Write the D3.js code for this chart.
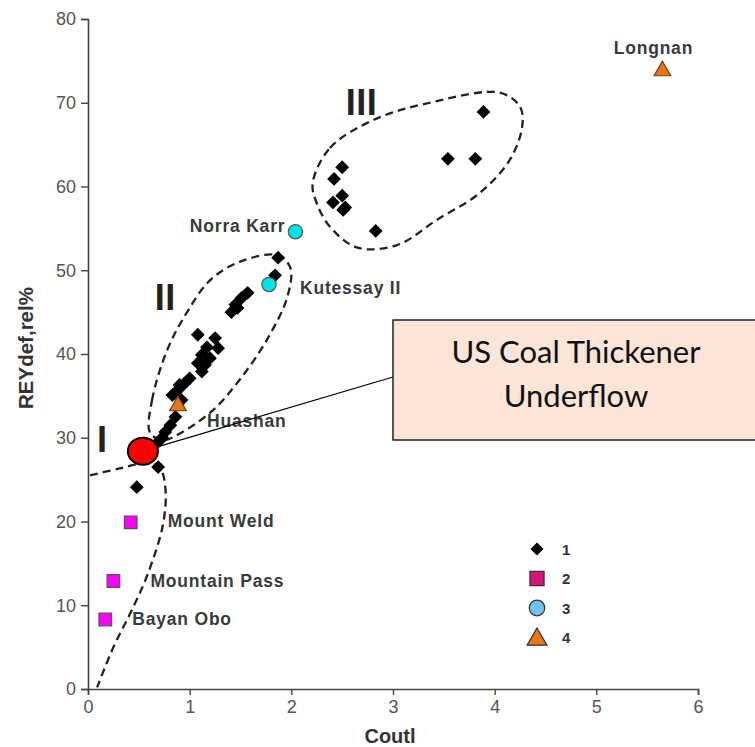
<!DOCTYPE html>
<html>
<head>
<meta charset="utf-8">
<script src="https://cdn.jsdelivr.net/npm/d3@7"></script>
<style>
  html, body { margin: 0; padding: 0; background: #fff; }
  svg { display: block; }
  .tick text { font-family: "Liberation Sans", Arial, sans-serif; font-size: 18px; fill: #555; }
  .lbl { font-family: "Liberation Sans", Arial, sans-serif; font-weight: bold; font-size: 17.5px; fill: #3a3a3a; letter-spacing: 0.8px; }
</style>
</head>
<body>
<svg id="chart" width="755" height="747"></svg>
<script>
// Axis ticks
const xTicks = [0, 1, 2, 3, 4, 5, 6];
const yTicks = [0, 10, 20, 30, 40, 50, 60, 70, 80];

// Group 1: REY deposits in coal ash (Coutl, REYdef,rel%)
const group1X = [3.89, 3.54, 3.81, 2.50, 2.42, 2.41, 2.50, 2.53, 2.51, 2.83,
                 1.87, 1.84, 1.57, 1.51, 1.45, 1.41, 1.47, 1.08, 1.25, 1.28,
                 1.17, 1.12, 1.08, 1.15, 1.12, 1.00, 0.95, 0.885, 0.83, 0.92,
                 0.86, 0.81, 0.76, 0.73, 0.69, 0.48, 0.68, 0.90, 1.20];
const group1Y = [68.9, 63.3, 63.3, 62.3, 60.9, 58.1, 58.9, 57.5, 57.2, 54.7,
                 51.5, 49.4, 47.3, 46.7, 45.9, 45.0, 45.5, 42.3, 41.9, 40.7,
                 40.8, 39.9, 38.9, 38.7, 37.9, 37.1, 36.5, 35.7, 35.1, 34.5,
                 32.5, 31.5, 30.7, 30.0, 26.5, 24.1, 29.4, 36.3, 39.5];

// Groups 2-4: named conventional deposits
const namedNames = ["Longnan", "Norra Karr", "Kutessay II", "Huashan", "Mount Weld", "Mountain Pass", "Bayan Obo"];
const namedX     = [5.65, 2.04, 1.78, 0.885, 0.42, 0.25, 0.17];
const namedY     = [73.8, 54.6, 48.3, 33.8, 19.9, 12.9, 8.3];
const namedGroup = [4, 3, 3, 4, 2, 2, 2];

// Highlighted sample
const sampleName = ["US Coal Thickener", "Underflow"];
const sampleX = 0.54;
const sampleY = 28.4;

// Field envelopes I, II, III (data coordinates)
const envI = [[0.02, 25.5], [0.30, 26.3], [0.54, 26.9], [0.70, 26.5], [0.76, 24.1], [0.74, 19.8],
              [0.59, 13.8], [0.43, 9.4], [0.25, 5.0], [0.09, 0.2]];
const envII = [[0.61, 30.6], [0.63, 34.5], [0.78, 40.5], [0.97, 44.9], [1.20, 48.8], [1.49, 51.0],
               [1.86, 51.8], [1.99, 50.3], [1.96, 46.8], [1.76, 41.7], [1.49, 36.9], [1.23, 33.3],
               [0.93, 30.7], [0.74, 29.7]];
const envIII = [[2.21, 60.4], [2.38, 64.6], [2.80, 67.9], [3.36, 70.0], [4.05, 71.2], [4.25, 69.5],
                [4.27, 67.1], [4.15, 63.2], [3.85, 59.2], [3.43, 56.0], [3.04, 53.0], [2.65, 52.7],
                [2.38, 55.2], [2.25, 58.0]];
const fieldNames = ["I", "II", "III"];
const fieldX = [0.14, 0.76, 2.69];
const fieldY = [28.3, 45.25, 68.5];

const legendGroups = ["1", "2", "3", "4"];

const svg = d3.select("#chart");
const x = d3.scaleLinear().domain([0, 6]).range([88, 698]);
const y = d3.scaleLinear().domain([0, 80]).range([689, 19]);

// Axes
const xAxis = svg.append("g").attr("transform", "translate(0,689)")
  .call(d3.axisBottom(x).tickValues(xTicks).tickSize(6).tickPadding(3).tickFormat(d3.format("d")));
const yAxis = svg.append("g").attr("transform", "translate(88,0)")
  .call(d3.axisLeft(y).tickValues(yTicks).tickSize(7).tickPadding(5).tickFormat(d3.format("d")));
[xAxis, yAxis].forEach(a => {
  a.select(".domain").attr("stroke", "#444").attr("stroke-width", 1.6);
  a.selectAll(".tick line").attr("stroke", "#444").attr("stroke-width", 1.4);
});
xAxis.selectAll(".tick text").attr("dy", "0.85em");

svg.append("text").attr("x", 390).attr("y", 743).attr("text-anchor", "middle")
  .attr("font-family", "Liberation Sans, Arial, sans-serif").attr("font-weight", "bold")
  .attr("font-size", 20).attr("fill", "#333").text("Coutl");
svg.append("text").attr("transform", "translate(33,348) rotate(-90)").attr("text-anchor", "middle")
  .attr("font-family", "Liberation Sans, Arial, sans-serif").attr("font-weight", "bold")
  .attr("font-size", 20.5).attr("fill", "#333").text("REYdef,rel%");

// Dashed envelopes
const dash = g => g.attr("fill", "none").attr("stroke", "#222").attr("stroke-width", 2.3)
  .attr("stroke-dasharray", "8,5");
const lineOpen = d3.line().x(d => x(d[0])).y(d => y(d[1])).curve(d3.curveCatmullRom.alpha(0.5));
const lineClosed = d3.line().x(d => x(d[0])).y(d => y(d[1])).curve(d3.curveCatmullRomClosed.alpha(0.5));
svg.append("path").attr("d", lineOpen(envI)).call(dash);
svg.append("path").attr("d", lineClosed(envII)).call(dash);
svg.append("path").attr("d", lineClosed(envIII)).call(dash);

// Field numerals
svg.selectAll(".field").data(fieldNames).join("text")
  .attr("x", (d, i) => x(fieldX[i])).attr("y", (d, i) => y(fieldY[i]))
  .attr("text-anchor", "middle")
  .attr("font-family", "Liberation Sans, Arial, sans-serif").attr("font-size", 36)
  .attr("font-weight", "bold").attr("fill", "#222").attr("letter-spacing", 0.5).text(d => d);

// Symbols
const diamond = d3.symbol().type(d3.symbolSquare).size(95);
const square = d3.symbol().type(d3.symbolSquare).size(160);
const circle = d3.symbol().type(d3.symbolCircle).size(160);
const triangle = d3.symbol().type(d3.symbolTriangle).size(120);
const styleFor = {
  2: { sym: square, fill: "#ff00ff", stroke: "#555" },
  3: { sym: circle, fill: "#00e6e6", stroke: "#555" },
  4: { sym: triangle, fill: "#e8751a", stroke: "#7a3a00" }
};

svg.selectAll(".g1").data(group1X).join("path")
  .attr("d", diamond)
  .attr("transform", (d, i) => `translate(${x(d)},${y(group1Y[i])}) rotate(45)`)
  .attr("fill", "#000");

svg.selectAll(".named").data(namedNames).join("path")
  .attr("d", (d, i) => styleFor[namedGroup[i]].sym())
  .attr("transform", (d, i) => `translate(${x(namedX[i])},${y(namedY[i])})`)
  .attr("fill", (d, i) => styleFor[namedGroup[i]].fill)
  .attr("stroke", (d, i) => styleFor[namedGroup[i]].stroke).attr("stroke-width", 1.2);

// Point labels: offset from the marker [dx, dy(baseline), anchor]
const labelPos = {
  "Longnan": [-9, -17, "middle"],
  "Norra Karr": [-10, 0, "end"],
  "Kutessay II": [31, 10, "start"],
  "Huashan": [29, 21, "start"],
  "Mount Weld": [37, 5, "start"],
  "Mountain Pass": [37, 6, "start"],
  "Bayan Obo": [27, 6, "start"]
};
svg.selectAll(".lbl").data(namedNames).join("text").attr("class", "lbl")
  .attr("x", (d, i) => x(namedX[i]) + labelPos[d][0])
  .attr("y", (d, i) => y(namedY[i]) + labelPos[d][1])
  .attr("text-anchor", d => labelPos[d][2])
  .text(d => d);

// Legend
const legendSyms = [
  { sym: d3.symbol().type(d3.symbolSquare).size(85), fill: "#000", stroke: "none", rot: 45 },
  { sym: d3.symbol().type(d3.symbolSquare).size(200), fill: "#d6147a", stroke: "#333", rot: 0 },
  { sym: d3.symbol().type(d3.symbolCircle).size(190), fill: "#70c4ee", stroke: "#333", rot: 0 },
  { sym: d3.symbol().type(d3.symbolTriangle).size(170), fill: "#e8751a", stroke: "#333", rot: 0 }
];
const lg = svg.append("g");
legendGroups.forEach((g, i) => {
  const ly = 549 + i * 29.5;
  const s = legendSyms[i];
  lg.append("path").attr("d", s.sym())
    .attr("transform", `translate(537,${ly + (i === 3 ? 2 : 0)}) rotate(${s.rot})`)
    .attr("fill", s.fill).attr("stroke", s.stroke).attr("stroke-width", 1.2);
  lg.append("text").attr("x", 562).attr("y", ly + 5.5)
    .attr("font-family", "Liberation Sans, Arial, sans-serif").attr("font-weight", "bold")
    .attr("font-size", 15).attr("fill", "#333").text(g);
});

// Callout for the highlighted sample
const boxX = 393, boxY = 320, boxW = 380, boxH = 120;
svg.append("line").attr("x1", x(sampleX)).attr("y1", y(sampleY))
  .attr("x2", boxX).attr("y2", 377).attr("stroke", "#000").attr("stroke-width", 1.2);
svg.append("ellipse").attr("cx", x(sampleX)).attr("cy", y(sampleY))
  .attr("rx", 15).attr("ry", 13.5).attr("fill", "#ff0000").attr("stroke", "#000").attr("stroke-width", 2);
svg.append("rect").attr("x", boxX).attr("y", boxY).attr("width", boxW).attr("height", boxH)
  .attr("fill", "#fbe5d6").attr("stroke", "#222").attr("stroke-width", 1.5);
sampleName.forEach((t, i) => {
  svg.append("text").attr("x", 576).attr("y", 363 + i * 44).attr("text-anchor", "middle")
    .attr("font-family", "Lato, 'Open Sans', sans-serif").attr("font-size", 31)
    .attr("fill", "#111").text(t);
});
</script>
</body>
</html>
